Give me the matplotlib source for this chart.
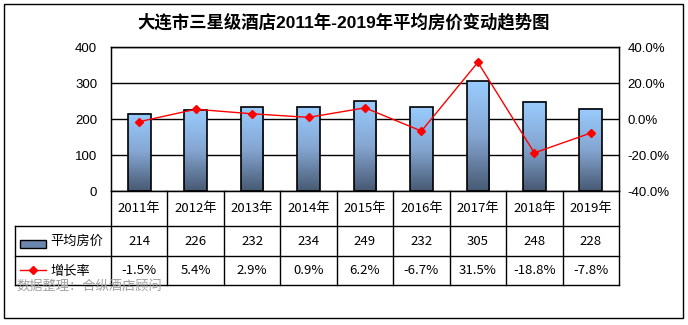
import numpy as np
import matplotlib
matplotlib.use('Agg')
import matplotlib.pyplot as plt
from matplotlib.patches import Rectangle
from matplotlib.colors import LinearSegmentedColormap
from matplotlib.lines import Line2D
from matplotlib import transforms

plt.rcParams['font.family'] = ['Noto Sans CJK SC', 'DejaVu Sans']

years = ['2011年', '2012年', '2013年', '2014年', '2015年', '2016年', '2017年', '2018年', '2019年']
price = [214, 226, 232, 234, 249, 232, 305, 248, 228]
growth = [-1.5, 5.4, 2.9, 0.9, 6.2, -6.7, 31.5, -18.8, -7.8]
price_labels = ['214', '226', '232', '234', '249', '232', '305', '248', '228']
growth_labels = ['-1.5%', '5.4%', '2.9%', '0.9%', '6.2%', '-6.7%', '31.5%', '-18.8%', '-7.8%']
title = '大连市三星级酒店2011年-2019年平均房价变动趋势图'
note = '数据整理：合纵酒店顾问'

W, H = 688, 325
fig = plt.figure(figsize=(W / 100, H / 100), dpi=100)

def fx(px):
    return px / W

def fy(py):
    return 1 - py / H

# outer frame
fig.add_artist(Rectangle((fx(4), fy(318)), fx(679), 314 / H, fill=False,
                         edgecolor='black', lw=1.0, transform=fig.transFigure))

fig.text(fx(344), fy(22), title, ha='center', va='center', fontsize=12.5,
         fontweight='bold', family=['Liberation Sans', 'Noto Sans CJK SC'])

# plot area
pl, pr, pt, pb = 111, 619, 47, 191
ax = fig.add_axes([fx(pl), fy(pb), fx(pr - pl), (pb - pt) / H])
n = len(years)
x = np.arange(n)

cmap = LinearSegmentedColormap.from_list('bar', [(0.0, (0.28, 0.35, 0.45)),
                                                 (0.5, (0.52, 0.65, 0.82)),
                                                 (1.0, (0.60, 0.80, 1.0))])
grad = np.linspace(1, 0, 256).reshape(-1, 1)
bw = 0.4
for xi, v in zip(x, price):
    ax.imshow(grad, extent=[xi - bw / 2, xi + bw / 2, 0, v], aspect='auto',
              cmap=cmap, vmin=0, vmax=1, zorder=2)
    ax.add_patch(Rectangle((xi - bw / 2, 0), bw, v, fill=False,
                           edgecolor='black', lw=1.2, zorder=3))

ax.set_xlim(-0.5, n - 0.5)
ax.set_ylim(0, 400)
ax.set_yticks([0, 100, 200, 300, 400])
ax.yaxis.grid(True, color='black', lw=1.0)
ax.set_axisbelow(True)
ax.set_xticks([])
ax.tick_params(axis='y', length=0, pad=10, labelsize=9.5)
for lab in ax.get_yticklabels():
    lab.set_fontfamily('Liberation Sans')
for s in ax.spines.values():
    s.set_linewidth(1.0)

ax2 = ax.twinx()
ax2.plot(x, growth, color='red', lw=1.0, marker='D', ms=4.5, zorder=5)
ax2.set_ylim(-40, 40)
ax2.set_yticks([-40, -20, 0, 20, 40])
ax2.set_yticklabels(['%.1f%%' % t for t in [-40, -20, 0, 20, 40]],
                    fontfamily='Liberation Sans')
ax2.tick_params(axis='y', length=0, pad=6, labelsize=9.5)
ax2.set_xlim(-0.5, n - 0.5)

# data table under the plot
tr = transforms.blended_transform_factory(ax.transData, fig.transFigure)
row_y = [pb, 226, 256, 285]
lc = dict(color='black', lw=1.0, clip_on=False)
edges = np.arange(n + 1) - 0.5
for e in edges:
    fig.add_artist(Line2D([e, e], [fy(row_y[0]), fy(row_y[3])], transform=tr, **lc))
for yy in row_y[1:]:
    fig.add_artist(Line2D([fx(15), fx(pr)], [fy(yy), fy(yy)], transform=fig.transFigure, **lc))
fig.add_artist(Line2D([fx(15), fx(15)], [fy(226), fy(285)], transform=fig.transFigure, **lc))

for xi, yl, pv, gv in zip(x, years, price_labels, growth_labels):
    fig.text(xi, fy(208.5), yl, transform=tr, ha='center', va='center', fontsize=9.5)
    fig.text(xi, fy(241.5), pv, transform=tr, ha='center', va='center', fontsize=9.5)
    fig.text(xi, fy(271), gv, transform=tr, ha='center', va='center', fontsize=9.5)

# legend keys in the table
fig.add_artist(Rectangle((fx(20), fy(248)), fx(26), 8 / H, transform=fig.transFigure,
                         facecolor=(0.42, 0.53, 0.68), edgecolor='black', lw=1.0))
fig.text(fx(50), fy(241.5), '平均房价', ha='left', va='center', fontsize=9.5)
fig.add_artist(Line2D([fx(20), fx(46)], [fy(270), fy(270)], transform=fig.transFigure,
                      color='red', lw=1.0))
fig.add_artist(Line2D([fx(33)], [fy(270)], transform=fig.transFigure,
                      color='red', marker='D', ms=4.5, lw=0))
fig.text(fx(50), fy(271), '增长率', ha='left', va='center', fontsize=9.5)

fig.text(fx(16), fy(286), note, ha='left', va='center', fontsize=9.5,
         color='#a0a0a0', zorder=10)

fig.savefig('out.png', dpi=100)
